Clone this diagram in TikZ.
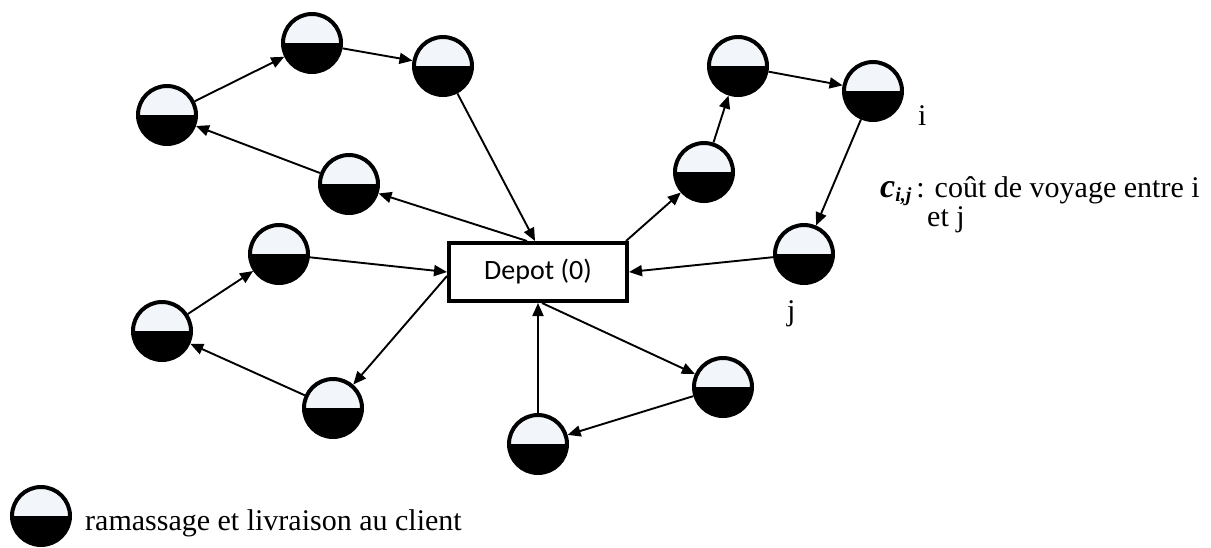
\documentclass[tikz,border=0pt]{standalone}
\usepackage{fontspec}
\setmainfont{Liberation Serif}
\newfontfamily\depotfont{Carlito}
\usetikzlibrary{arrows.meta,calc}
\definecolor{halflight}{HTML}{F2F6FA}
\begin{document}
\begin{tikzpicture}[x=1pt,y=-1pt,
  client/.style={circle,draw=black,line width=4pt,minimum size=58pt,inner sep=0pt,fill=halflight,
    path picture={\fill[black] (path picture bounding box.west) rectangle (path picture bounding box.south east);}},
  conn/.style={line width=1.9pt,-{Triangle[length=13pt,width=11pt]}},
  depotbox/.style={draw,line width=4pt,minimum width=178pt,minimum height=58pt,inner sep=0pt,
    font=\depotfont\fontsize{28}{32}\selectfont},
  lbl/.style={font=\fontsize{30}{32}\selectfont,inner sep=0pt,anchor=base west}]
\useasboundingbox (0,0) rectangle (1211,547);

\node[depotbox] (dep) at (538,272) {Depot (0)};

\node[client] (A) at (167,115) {};
\node[client] (B) at (312,43) {};
\node[client] (C) at (443,66) {};
\node[client] (D) at (349,184) {};
\node[client] (E) at (279,254) {};
\node[client] (F) at (162,331) {};
\node[client] (G) at (333,408) {};
\node[client] (H) at (538,444) {};
\node[client] (I) at (723,387) {};
\node[client] (J) at (704,172) {};
\node[client] (K) at (738,66) {};
\node[client] (L) at (873,91) {};
\node[client] (M) at (804,254) {};

\coordinate (dinC) at ($(dep.north)+(-3,0)$);
\coordinate (doutD) at ($(dep.north)+(-11,0)$);
\coordinate (doutG) at ($(dep.west)+(0,4)$);
\coordinate (doutI) at ($(dep.south)+(4,0)$);
\coordinate (doutJ) at ($(dep.north east)+(-3,0)$);

\draw[conn] (A) -- (B);
\draw[conn] (B) -- (C);
\draw[conn] (C) -- (dinC);
\draw[conn] (doutD) -- (D);
\draw[conn] (D) -- (A);
\draw[conn] (E) -- (dep.west);
\draw[conn] (F) -- (E);
\draw[conn] (G) -- (F);
\draw[conn] (doutG) -- (G);
\draw[conn] (H) -- (dep.south);
\draw[conn] (doutI) -- (I);
\draw[conn] (I) -- (H);
\draw[conn] (doutJ) -- (J);
\draw[conn] (J) -- (K);
\draw[conn] (K) -- (L);
\draw[conn] (L) -- (M);
\draw[conn] (M) -- (dep.east);

\node[lbl] (li) at (918,125) {i};
\node[lbl] (lj) at (787,320) {j};
\node[lbl] (lc) at (880,197) {{\fontsize{34}{34}\selectfont\bfseries\itshape c}\raisebox{-4pt}{\fontsize{20}{20}\selectfont\bfseries\itshape i,j}\,: coût de voyage entre i};
\node[lbl] (lc2) at (927,226) {et j};

\node[client] (leg) at (41,516) {};
\node[lbl] (legtext) at (85,530) {ramassage et livraison au client};
\end{tikzpicture}
\end{document}
